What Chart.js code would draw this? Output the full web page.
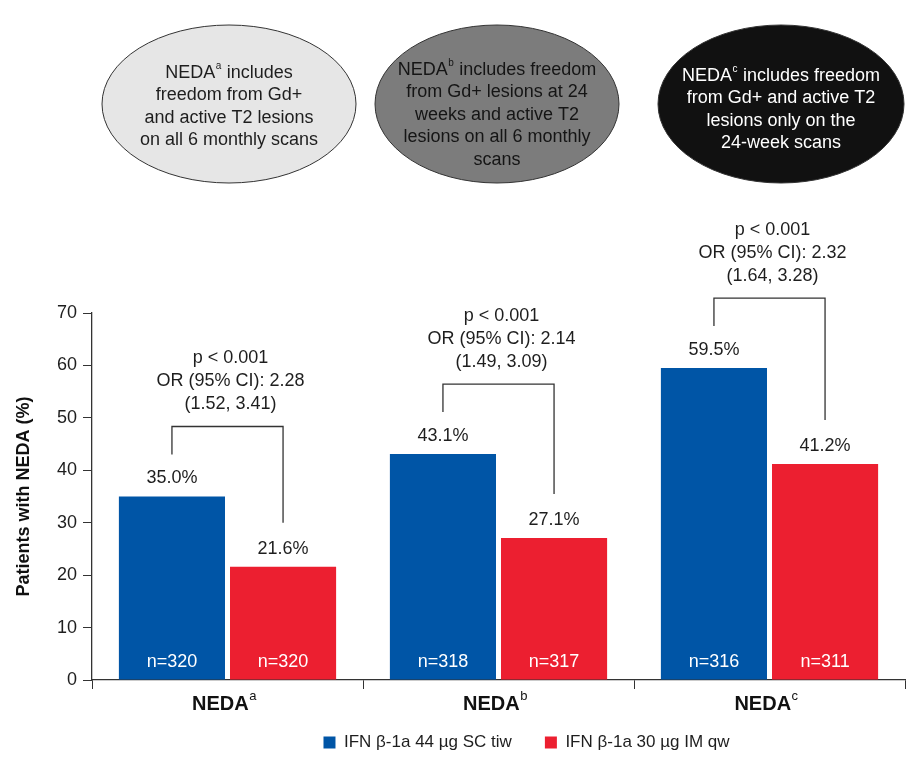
<!DOCTYPE html>
<html lang="en">
<head>
    <meta charset="UTF-8">
    <title>NEDA by treatment group</title>
    <style>
        body {
            margin: 0;
            background-color: #fff;
        }
        #chartCanvas {
            display: block;
        }
    </style>
</head>
<body>
    <canvas id="chartCanvas" width="907" height="761"></canvas>
    <script src="https://cdn.jsdelivr.net/npm/chart.js"></script>
    <script>
        // data
        const categories = ['NEDA', 'NEDA', 'NEDA'];
        const superscripts = ['a', 'b', 'c'];
        const seriesNames = ['IFN β-1a 44 µg SC tiw', 'IFN β-1a 30 µg IM qw'];
        const scValues = [35.0, 43.1, 59.5];
        const imValues = [21.6, 27.1, 41.2];
        const scCounts = [320, 318, 316];
        const imCounts = [320, 317, 311];
        const pValues = ['p < 0.001', 'p < 0.001', 'p < 0.001'];
        const oddsRatios = ['2.28', '2.14', '2.32'];
        const confIntervals = ['(1.52, 3.41)', '(1.49, 3.09)', '(1.64, 3.28)'];
        const yTicks = [0, 10, 20, 30, 40, 50, 60, 70];

        const definitions = [
            { sup: 'a', lines: ['NEDA| includes', 'freedom from Gd+', 'and active T2 lesions', 'on all 6 monthly scans'] },
            { sup: 'b', lines: ['NEDA| includes freedom', 'from Gd+ lesions at 24', 'weeks and active T2', 'lesions on all 6 monthly', 'scans'] },
            { sup: 'c', lines: ['NEDA| includes freedom', 'from Gd+ and active T2', 'lesions only on the', '24-week scans'] }
        ];

        const FONT = '"Liberation Sans", Arial, sans-serif';
        const BLUE = '#0055a6';
        const RED = '#ec1f30';
        const INK = '#1e1e1e';

        // text with a raised small letter where the "|" stands
        function drawSupText(ctx, text, sup, cx, cy, size, weight, color, supScale) {
            ctx.save();
            const parts = text.split('|');
            const supSize = Math.round(size * (supScale || 0.62));
            const supFont = `${weight === 'bold' ? 'normal' : weight} ${supSize}px ${FONT}`;
            const mainFont = `${weight} ${size}px ${FONT}`;
            ctx.font = mainFont;
            const w0 = ctx.measureText(parts[0]).width;
            const w2 = parts[1] ? ctx.measureText(parts[1]).width : 0;
            ctx.font = supFont;
            const w1 = ctx.measureText(sup).width + 1;
            let x = cx - (w0 + w1 + w2) / 2;
            ctx.fillStyle = color;
            ctx.textBaseline = 'middle';
            ctx.textAlign = 'left';
            ctx.font = mainFont;
            ctx.fillText(parts[0], x, cy);
            x += w0;
            ctx.font = supFont;
            ctx.fillText(sup, x + 0.5, cy - size * 0.36);
            x += w1;
            if (parts[1]) {
                ctx.font = mainFont;
                ctx.fillText(parts[1], x, cy);
            }
            ctx.restore();
        }

        const ellipses = [
            { cx: 229, cy: 104, rx: 127, ry: 79, fill: '#e6e6e6', text: '#1e1e1e', top: 73 },
            { cx: 497, cy: 104, rx: 122, ry: 79, fill: '#7c7c7c', text: '#151515', top: 70 },
            { cx: 781, cy: 104, rx: 123, ry: 79, fill: '#111111', text: '#ffffff', top: 76 }
        ];

        const overlay = {
            id: 'overlay',
            afterLayout(chart) {
                // the legend in the figure sits right of the page centre
                chart.legend.left += 74;
                chart.legend.right += 74;
            },
            afterDatasetsDraw(chart) {
                const ctx = chart.ctx;
                const y = chart.scales.y;
                const x = chart.scales.x;
                const sc = chart.getDatasetMeta(0).data;
                const im = chart.getDatasetMeta(1).data;
                ctx.save();

                // definition ellipses
                ellipses.forEach((e, i) => {
                    ctx.beginPath();
                    ctx.ellipse(e.cx, e.cy, e.rx, e.ry, 0, 0, Math.PI * 2);
                    ctx.fillStyle = e.fill;
                    ctx.fill();
                    ctx.lineWidth = 1;
                    ctx.strokeStyle = '#333';
                    ctx.stroke();
                    definitions[i].lines.forEach((line, k) => {
                        const ly = e.top + k * 22.5;
                        if (line.includes('|')) {
                            drawSupText(ctx, line, definitions[i].sup, e.cx, ly, 18, 'normal', e.text, 0.55);
                        } else {
                            ctx.font = `18px ${FONT}`;
                            ctx.fillStyle = e.text;
                            ctx.textAlign = 'center';
                            ctx.textBaseline = 'middle';
                            ctx.fillText(line, e.cx, ly);
                        }
                    });
                });

                for (let i = 0; i < categories.length; i++) {
                    const b1 = sc[i], b2 = im[i];
                    ctx.textAlign = 'center';
                    ctx.textBaseline = 'middle';
                    // value labels
                    ctx.font = `18px ${FONT}`;
                    ctx.fillStyle = INK;
                    ctx.fillText(scValues[i].toFixed(1) + '%', b1.x, b1.y - 18);
                    ctx.fillText(imValues[i].toFixed(1) + '%', b2.x, b2.y - 18);
                    // n counts inside the bars
                    ctx.fillStyle = '#ffffff';
                    ctx.fillText('n=' + scCounts[i], b1.x, y.getPixelForValue(0) - 18);
                    ctx.fillText('n=' + imCounts[i], b2.x, y.getPixelForValue(0) - 18);

                    // comparison bracket
                    const top = b1.y - 70;
                    ctx.beginPath();
                    ctx.moveTo(b1.x, b1.y - 42);
                    ctx.lineTo(b1.x, top);
                    ctx.lineTo(b2.x, top);
                    ctx.lineTo(b2.x, b2.y - 44);
                    ctx.lineWidth = 1.3;
                    ctx.strokeStyle = '#333';
                    ctx.stroke();

                    const mid = (b1.x + b2.x) / 2 + 3;
                    ctx.fillStyle = INK;
                    ctx.font = `18px ${FONT}`;
                    ctx.fillText(confIntervals[i], mid, top - 22);
                    ctx.fillText('OR (95% CI): ' + oddsRatios[i], mid, top - 45);
                    ctx.fillText(pValues[i], mid, top - 68);

                    // category labels with superscript
                    drawSupText(ctx, categories[i] + '|', superscripts[i], x.getPixelForValue(i) - 3, 704, 20, 'bold', '#111', 0.65);
                }
                ctx.restore();
            }
        };

        const ctx = document.getElementById('chartCanvas').getContext('2d');
        const chart = new Chart(ctx, {
            type: 'bar',
            data: {
                labels: categories,
                datasets: [
                    {
                        label: seriesNames[0],
                        data: scValues,
                        backgroundColor: BLUE,
                        categoryPercentage: 0.82,
                        barPercentage: 0.955
                    },
                    {
                        label: seriesNames[1],
                        data: imValues,
                        backgroundColor: RED,
                        categoryPercentage: 0.82,
                        barPercentage: 0.955
                    }
                ]
            },
            options: {
                responsive: false,
                animation: false,
                layout: {
                    padding: { top: 313, right: 2, left: 0, bottom: 0 }
                },
                plugins: {
                    tooltip: { enabled: false },
                    legend: {
                        position: 'bottom',
                        labels: {
                            boxWidth: 12,
                            boxHeight: 12,
                            padding: 33,
                            color: INK,
                            font: { family: FONT, size: 17 }
                        }
                    }
                },
                scales: {
                    x: {
                        grid: {
                            drawOnChartArea: false,
                            drawTicks: true,
                            tickLength: 9,
                            color: '#333'
                        },
                        border: { color: '#333', width: 1.3 },
                        ticks: {
                            color: 'transparent',
                            font: { family: FONT, size: 20, weight: 'bold' }
                        },
                        afterFit(scale) {
                            scale.height = 21;
                        }
                    },
                    y: {
                        min: 0,
                        max: 70,
                        afterBuildTicks(scale) {
                            scale.ticks = yTicks.map(v => ({ value: v }));
                        },
                        grid: {
                            drawOnChartArea: false,
                            drawTicks: true,
                            tickLength: 9,
                            color: '#333'
                        },
                        border: { color: '#333', width: 1.3 },
                        ticks: {
                            color: INK,
                            padding: 6,
                            font: { family: FONT, size: 18 }
                        },
                        title: {
                            display: true,
                            text: 'Patients with NEDA (%)',
                            color: '#111',
                            padding: { top: 13, bottom: 4 },
                            font: { family: FONT, size: 18, weight: 'bold' }
                        },
                        afterFit(scale) {
                            scale.width = 92;
                        }
                    }
                }
            },
            plugins: [overlay]
        });
    </script>
</body>
</html>
